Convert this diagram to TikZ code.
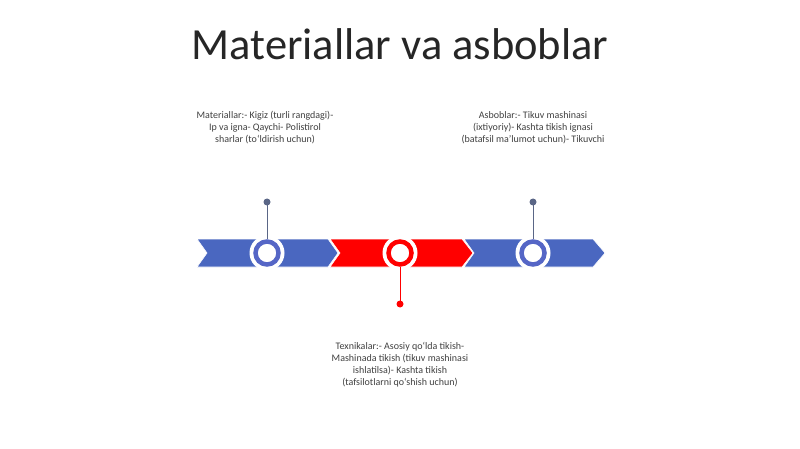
\documentclass[tikz,border=0pt]{standalone}
\usepackage{fontspec}
\setmainfont{Carlito}
\definecolor{chevblue}{HTML}{4A67C0}
\definecolor{ringblue}{HTML}{5566C6}
\definecolor{stemgray}{HTML}{5A6686}
\definecolor{redc}{HTML}{FF0000}
\definecolor{txt}{HTML}{404040}
\tikzset{
  chev/.style={draw=white, line width=0.6pt},
  halo/.style={circle, fill=white, inner sep=0pt, outer sep=0pt, minimum size=35pt},
  ring/.style={circle, draw=#1, line width=4.5pt, fill=white, inner sep=0pt, outer sep=2.25pt, minimum size=23pt},
  dot/.style={circle, fill=#1, inner sep=0pt, minimum size=7pt},
  stem/.style={draw=#1, line width=1pt},
  lbl/.style={align=center, font=\fontsize{10}{12}\selectfont, text=txt},
}
\begin{document}
\begin{tikzpicture}[x=1pt,y=-1pt]
\useasboundingbox (0,0) rectangle (800,449);
\fill[white] (0,0) rectangle (800,449);
\node[anchor=base, font=\fontsize{44.5}{48}\selectfont, text=black!85] (title) at (400,60) {Materiallar va asboblar};
% chevrons
\fill[chevblue, chev] (197,239) -- (328,239) -- (338,253) -- (328,267) -- (197,267) -- (207,253) -- cycle;
\fill[redc, chev] (330,239) -- (462,239) -- (473,253) -- (462,267) -- (330,267) -- (340,253) -- cycle;
\fill[chevblue, chev] (464,239) -- (593,239) -- (605,253) -- (593,267) -- (464,267) -- (474,253) -- cycle;
% rings
\node[halo] (h1) at (267,253) {};
\node[halo] (h2) at (400,253) {};
\node[halo] (h3) at (533,253) {};
\node[ring=ringblue] (c1) at (267,253) {};
\node[ring=redc] (c2) at (400,253) {};
\node[ring=ringblue] (c3) at (533,253) {};
% dots and stems
\node[dot=stemgray] (d1) at (267,202) {};
\node[dot=redc] (d2) at (400,304) {};
\node[dot=stemgray] (d3) at (533,202) {};
\draw[stem=stemgray] (d1.center) -- (c1.north);
\draw[stem=redc] (c2.south) -- (d2.center);
\draw[stem=stemgray] (d3.center) -- (c3.north);
% labels
\node[lbl] (t1) at (265,128) {Materiallar:- Kigiz (turli rangdagi)-\\Ip va igna- Qaychi- Polistirol\\sharlar (to‘ldirish uchun)};
\node[lbl] (t3) at (533,128) {Asboblar:- Tikuv mashinasi\\(ixtiyoriy)- Kashta tikish ignasi\\(batafsil ma’lumot uchun)- Tikuvchi};
\node[lbl] (t2) at (400,365) {Texnikalar:- Asosiy qo‘lda tikish-\\Mashinada tikish (tikuv mashinasi\\ishlatilsa)- Kashta tikish\\(tafsilotlarni qo‘shish uchun)};
\end{tikzpicture}
\end{document}
